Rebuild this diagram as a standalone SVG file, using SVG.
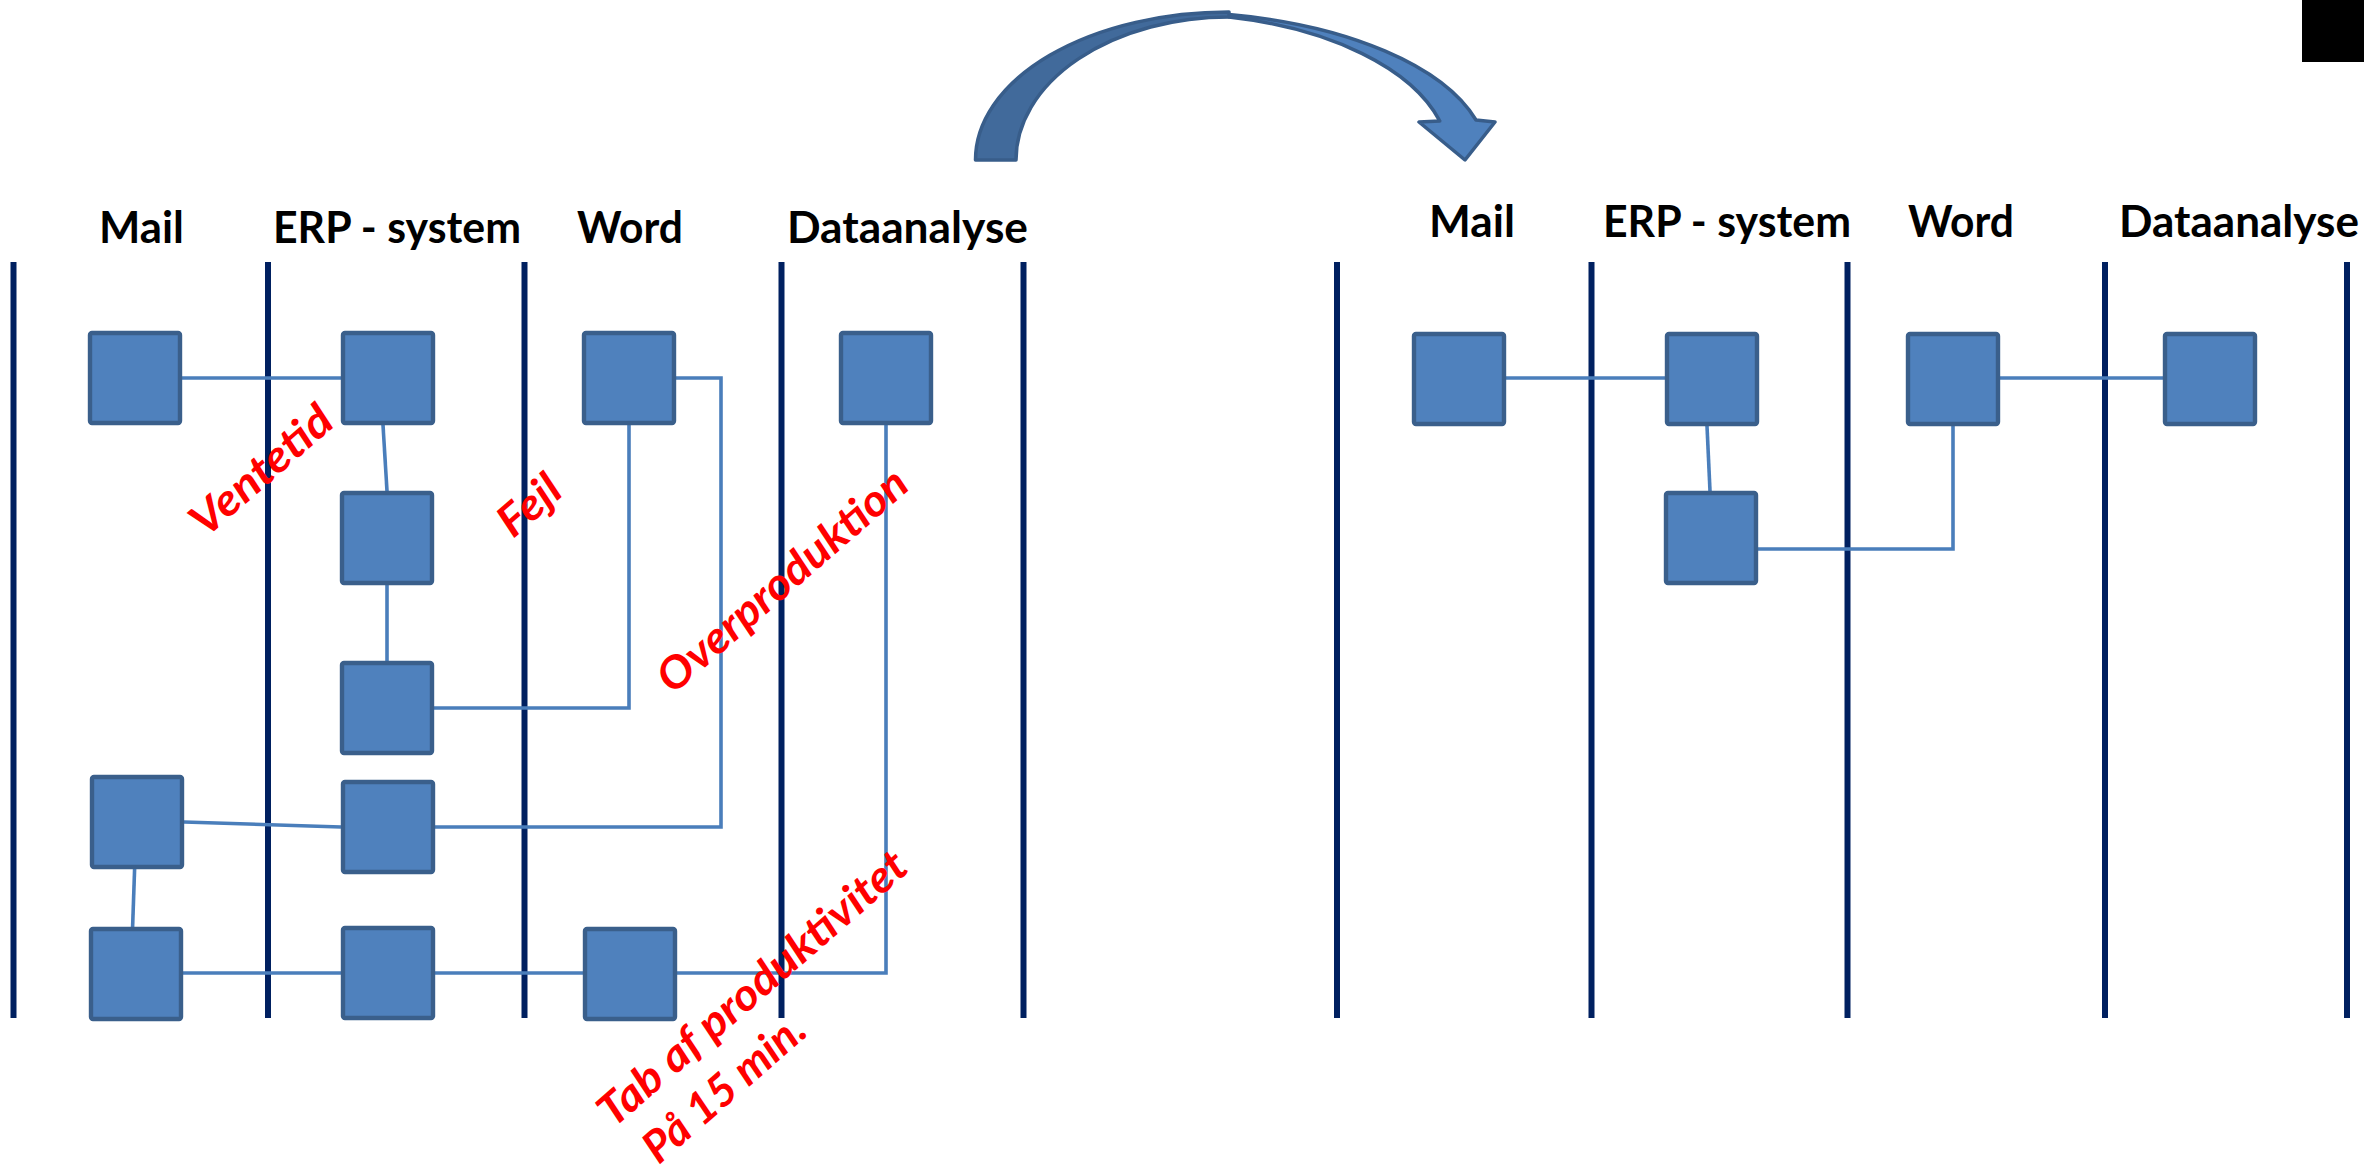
<svg xmlns="http://www.w3.org/2000/svg" width="2364" height="1174" viewBox="0 0 2364 1174">
<style>
.lane{stroke:#002060;stroke-width:6;fill:none}
.box{fill:#4F81BD;stroke:#3A5F8B;stroke-width:4.4}
.con{stroke:#4A7EBB;stroke-width:3.6;fill:none}
.hdr{font-family:Lato,"Liberation Sans",sans-serif;font-weight:bold;font-size:43px;fill:#000}
.red{font-family:Lato,"Liberation Sans",sans-serif;font-weight:bold;font-style:italic;font-size:44px;fill:#FF0000}
.arr{stroke:#385D8A;stroke-width:3.5;stroke-linejoin:round}
</style>
<rect width="2364" height="1174" fill="#fff"/>
<rect x="2302" y="0" width="62" height="62" fill="#000"/>

<g id="arrow">
<path class="arr" fill="#4F81BD" d="M1229,14.6 A318,148 0 0 1 1476,120 L1495,122 L1465,160 L1419,122 L1439.8,121 A280,146 0 0 0 1229,17 Z"/>
<path class="arr" fill="#416A9B" d="M975.5,160 A253.5,148 0 0 1 1229,12 L1229,17 A213,143 0 0 0 1016,160 Z"/>
</g>

<g id="lanes">
<line class="lane" x1="13.5" y1="262" x2="13.5" y2="1018"/>
<line class="lane" x1="268" y1="262" x2="268" y2="1018"/>
<line class="lane" x1="524.5" y1="262" x2="524.5" y2="1018"/>
<line class="lane" x1="781.5" y1="262" x2="781.5" y2="1018"/>
<line class="lane" x1="1023.5" y1="262" x2="1023.5" y2="1018"/>
<line class="lane" x1="1337" y1="262" x2="1337" y2="1018"/>
<line class="lane" x1="1591.5" y1="262" x2="1591.5" y2="1018"/>
<line class="lane" x1="1847.5" y1="262" x2="1847.5" y2="1018"/>
<line class="lane" x1="2105" y1="262" x2="2105" y2="1018"/>
<line class="lane" x1="2347" y1="262" x2="2347" y2="1018"/>
</g>

<g id="headers">
<text class="hdr" x="99" y="243" textLength="85" lengthAdjust="spacingAndGlyphs">Mail</text>
<text class="hdr" x="273" y="243" textLength="248" lengthAdjust="spacingAndGlyphs">ERP - system</text>
<text class="hdr" x="577" y="243" textLength="106" lengthAdjust="spacingAndGlyphs">Word</text>
<text class="hdr" x="787" y="243" textLength="241" lengthAdjust="spacingAndGlyphs">Dataanalyse</text>
<text class="hdr" x="1429" y="237" textLength="86" lengthAdjust="spacingAndGlyphs">Mail</text>
<text class="hdr" x="1603" y="237" textLength="248" lengthAdjust="spacingAndGlyphs">ERP - system</text>
<text class="hdr" x="1908" y="237" textLength="106" lengthAdjust="spacingAndGlyphs">Word</text>
<text class="hdr" x="2119" y="237" textLength="240" lengthAdjust="spacingAndGlyphs">Dataanalyse</text>
</g>

<g id="connectors">
<polyline class="con" points="182,378 341,378"/>
<polyline class="con" points="383,425 387,491"/>
<polyline class="con" points="676,378 721,378 721,827 434,827"/>
<polyline class="con" points="629,425 629,708 434,708"/>
<polyline class="con" points="387,585 387,661"/>
<polyline class="con" points="886,425 886,973 676,973"/>
<polyline class="con" points="184,822 341,827"/>
<polyline class="con" points="134.6,869 132.6,927"/>
<polyline class="con" points="183,973 341,973"/>
<polyline class="con" points="435,973 583,973"/>
<polyline class="con" points="1506,378 1665,378"/>
<polyline class="con" points="2000,378 2163,378"/>
<polyline class="con" points="1707,426 1710,491"/>
<polyline class="con" points="1953,426 1953,549 1758,549"/>
</g>

<g id="L-mail-1"><rect class="box" x="90" y="333" width="90" height="90" rx="2"/></g>
<g id="L-erp-1"><rect class="box" x="343" y="333" width="90" height="90" rx="2"/></g>
<g id="L-word-1"><rect class="box" x="584" y="333" width="90" height="90" rx="2"/></g>
<g id="L-data-1"><rect class="box" x="841" y="333" width="90" height="90" rx="2"/></g>
<g id="L-erp-2"><rect class="box" x="342" y="493" width="90" height="90" rx="2"/></g>
<g id="L-erp-3"><rect class="box" x="342" y="663" width="90" height="90" rx="2"/></g>
<g id="L-mail-4"><rect class="box" x="92" y="777" width="90" height="90" rx="2"/></g>
<g id="L-erp-4"><rect class="box" x="343" y="782" width="90" height="90" rx="2"/></g>
<g id="L-mail-5"><rect class="box" x="91" y="929" width="90" height="90" rx="2"/></g>
<g id="L-erp-5"><rect class="box" x="343" y="928" width="90" height="90" rx="2"/></g>
<g id="L-word-5"><rect class="box" x="585" y="929" width="90" height="90" rx="2"/></g>

<g id="R-mail-1"><rect class="box" x="1414" y="334" width="90" height="90" rx="2"/></g>
<g id="R-erp-1"><rect class="box" x="1667" y="334" width="90" height="90" rx="2"/></g>
<g id="R-word-1"><rect class="box" x="1908" y="334" width="90" height="90" rx="2"/></g>
<g id="R-data-1"><rect class="box" x="2165" y="334" width="90" height="90" rx="2"/></g>
<g id="R-erp-2"><rect class="box" x="1666" y="493" width="90" height="90" rx="2"/></g>

<g id="labels">
<text class="red" transform="translate(261,470) rotate(-41)" text-anchor="middle" dy="0.35em" textLength="173" lengthAdjust="spacingAndGlyphs">Ventetid</text>
<text class="red" transform="translate(529,505) rotate(-41)" text-anchor="middle" dy="0.35em" textLength="69" lengthAdjust="spacingAndGlyphs">Fejl</text>
<text class="red" transform="translate(782,580) rotate(-41)" text-anchor="middle" dy="0.35em" textLength="316" lengthAdjust="spacingAndGlyphs">Overproduktion</text>
<text class="red" transform="translate(752,988) rotate(-41)" text-anchor="middle" dy="0.35em" textLength="394" lengthAdjust="spacingAndGlyphs">Tab af produktivitet</text>
<text class="red" transform="translate(724,1088) rotate(-41)" text-anchor="middle" dy="0.35em" textLength="200" lengthAdjust="spacingAndGlyphs">På 15 min.</text>
</g>
</svg>
